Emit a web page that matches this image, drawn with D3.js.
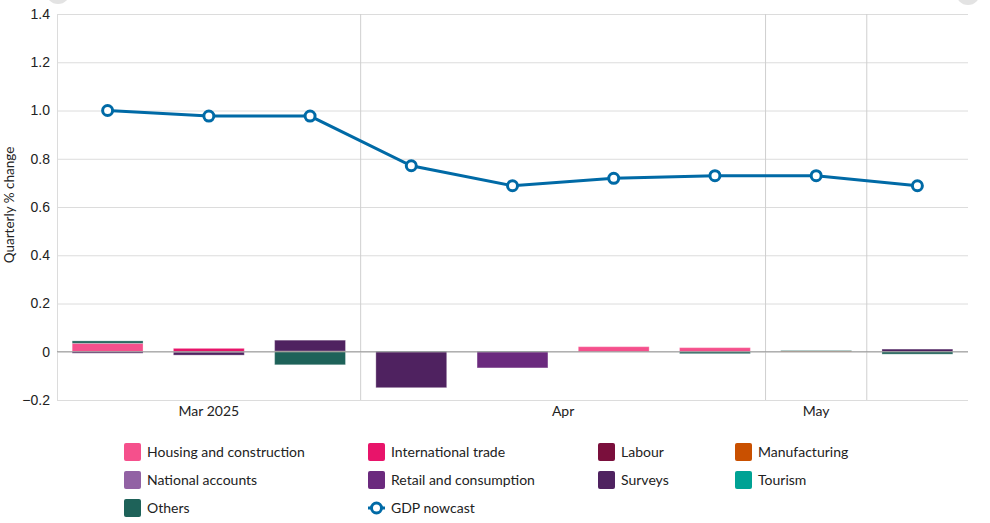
<!DOCTYPE html>
<html>
<head>
<meta charset="utf-8">
<script src="https://cdn.jsdelivr.net/npm/d3@7"></script>
<style>
  body { margin: 0; background: #fff; }
  svg { font-family: Lato, "Open Sans", sans-serif; }
</style>
</head>
<body>
<svg></svg>
<script>
  // categories (weekly nowcasts) and their month groups
  var weeks = ["w1", "w2", "w3", "w4", "w5", "w6", "w7", "w8", "w9"];
  var monthLabels = ["Mar 2025", "Apr", "May", ""];
  var monthSizes = [3, 4, 1, 1];

  var seriesNames = ["Housing and construction", "International trade", "Labour", "Manufacturing",
    "National accounts", "Retail and consumption", "Surveys", "Tourism", "Others"];
  var seriesColors = ["#f5508c", "#e8146a", "#7a0f3c", "#c95000",
    "#9262a4", "#6b2a7e", "#4f2260", "#00a294", "#1e6259"];

  var housing      = [0.035, 0, 0, 0, 0, 0.021, 0.017, 0, 0];
  var intlTrade    = [0, 0.014, 0, 0, 0, 0, 0, 0, 0];
  var labour       = [0, -0.002, 0, 0, 0, 0, 0, 0, 0];
  var manufacturing= [0, 0, 0.003, 0, 0, 0, 0, 0.003, 0];
  var natAccounts  = [0, 0, 0, 0, 0, 0, 0, 0, 0];
  var retail       = [0, 0, 0, 0, -0.067, 0, 0, 0, 0];
  var surveys      = [-0.006, -0.012, 0.045, -0.149, 0, 0, 0, 0, 0.011];
  var tourism      = [0, 0, 0, 0, 0, 0, 0, 0, 0];
  var others       = [0.010, 0, -0.054, 0.002, 0.002, 0, -0.008, 0.002, -0.010];

  var gdpNowcast = [1.00, 0.977, 0.977, 0.771, 0.688, 0.719, 0.730, 0.730, 0.688];

  var yTicks = [-0.2, 0, 0.2, 0.4, 0.6, 0.8, 1.0, 1.2, 1.4];

  var seriesValues = [housing, intlTrade, labour, manufacturing, natAccounts, retail, surveys, tourism, others];

  var W = 990, H = 523;
  var m = { left: 57, right: 22, top: 14, bottom: 123 };
  var svg = d3.select("svg").attr("width", W).attr("height", H);

  var x = d3.scaleBand().domain(weeks).range([m.left, W - m.right]).paddingInner(0.3).paddingOuter(0.15);
  var y = d3.scaleLinear().domain([-0.2, 1.4]).range([H - m.bottom, m.top]);

  // little grey buttons cut off at the top
  svg.append("circle").attr("cx", 58).attr("cy", -8).attr("r", 12).attr("fill", "#e3e3e3");
  svg.append("circle").attr("cx", 968).attr("cy", -7).attr("r", 12).attr("fill", "#e3e3e3");

  // horizontal gridlines + labels
  var yAxis = d3.axisLeft(y).tickValues(yTicks).tickSize(-(W - m.left - m.right)).tickPadding(7)
    .tickFormat(function(d) { return d === 0 ? "0" : d3.format(".1f")(d); });
  var gy = svg.append("g").attr("transform", "translate(" + m.left + ",0)").call(yAxis);
  gy.select(".domain").attr("stroke", "#dcdcdc");
  gy.selectAll(".tick line").attr("stroke", "#dcdcdc");
  gy.selectAll(".tick text").attr("font-size", 14).attr("fill", "#222");

  // month group boundaries
  var step = x.step();
  var bounds = [];
  var acc = 0;
  monthSizes.forEach(function(n, i) {
    var start = acc; acc += n;
    var xs = m.left + start * step, xe = m.left + acc * step;
    if (i > 0) bounds.push(xs);
    svg.append("text").attr("x", (xs + xe) / 2).attr("y", H - m.bottom + 16)
      .attr("text-anchor", "middle").attr("font-size", 14).attr("fill", "#222").text(monthLabels[i]);
  });
  svg.selectAll(".vgrid").data(bounds).enter().append("line")
    .attr("x1", function(d) { return d; }).attr("x2", function(d) { return d; })
    .attr("y1", m.top).attr("y2", H - m.bottom).attr("stroke", "#cfcfcf");

  // stacked bars
  var rows = weeks.map(function(w, i) {
    var r = { week: w };
    seriesNames.forEach(function(s, j) { r[s] = seriesValues[j][i]; });
    return r;
  });
  var stack = d3.stack().keys(seriesNames).offset(d3.stackOffsetDiverging)(rows);
  svg.selectAll(".layer").data(stack).enter().append("g")
    .attr("fill", function(d, i) { return seriesColors[i]; })
    .selectAll("rect").data(function(d) { return d.filter(function(p) { return p[1] - p[0] !== 0; }); })
    .enter().append("rect")
    .attr("x", function(d) { return x(d.data.week); })
    .attr("width", x.bandwidth())
    .attr("y", function(d) { return y(Math.max(d[0], d[1])); })
    .attr("height", function(d) { return Math.abs(y(d[0]) - y(d[1])); })
    .attr("stroke", "#fff").attr("stroke-opacity", 0.3).attr("stroke-width", 1);

  // zero line
  svg.append("line").attr("x1", m.left).attr("x2", W - m.right)
    .attr("y1", y(0)).attr("y2", y(0)).attr("stroke", "#999").attr("stroke-width", 1);

  // GDP nowcast line
  var cx = function(d, i) { return x(weeks[i]) + x.bandwidth() / 2; };
  var line = d3.line().x(cx).y(function(d) { return y(d); });
  svg.append("path").datum(gdpNowcast).attr("d", line)
    .attr("fill", "none").attr("stroke", "#006aa6").attr("stroke-width", 3);
  svg.selectAll(".pt").data(gdpNowcast).enter().append("circle")
    .attr("cx", cx).attr("cy", function(d) { return y(d); }).attr("r", 5)
    .attr("fill", "#fff").attr("stroke", "#006aa6").attr("stroke-width", 3);

  // y axis title
  svg.append("text").attr("transform", "translate(14," + (y(0.6) - 2) + ") rotate(-90)")
    .attr("text-anchor", "middle").attr("font-size", 13.5).attr("fill", "#222").text("Quarterly % change");

  // legend
  var colX = [124, 368, 598, 735];
  var legendItems = seriesNames.concat(["GDP nowcast"]);
  legendItems.forEach(function(name, i) {
    var lx = colX[i % 4], ly = 452 + Math.floor(i / 4) * 28;
    var g = svg.append("g");
    if (i < seriesNames.length) {
      g.append("rect").attr("x", lx).attr("y", ly - 9).attr("width", 17).attr("height", 18)
        .attr("rx", 2).attr("fill", seriesColors[i]);
    } else {
      g.append("line").attr("x1", lx).attr("x2", lx + 17).attr("y1", ly).attr("y2", ly)
        .attr("stroke", "#006aa6").attr("stroke-width", 3);
      g.append("circle").attr("cx", lx + 8.5).attr("cy", ly).attr("r", 5)
        .attr("fill", "#fff").attr("stroke", "#006aa6").attr("stroke-width", 3);
    }
    g.append("text").attr("x", lx + 23).attr("y", ly + 5).attr("font-size", 14)
      .attr("fill", "#222").text(name);
  });
</script>
</body>
</html>
